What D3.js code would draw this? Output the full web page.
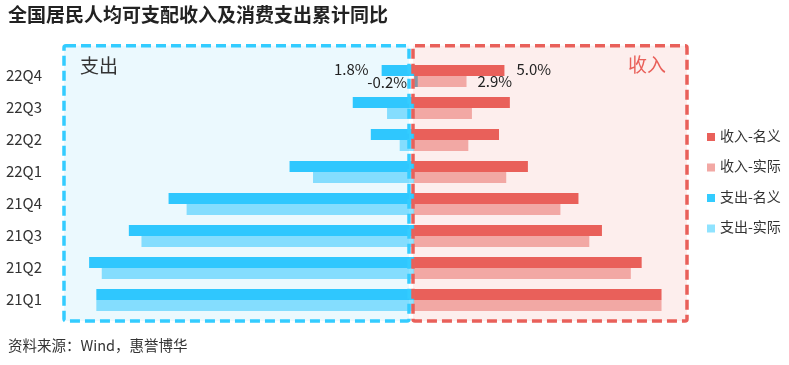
<!DOCTYPE html>
<html>
<head>
<meta charset="utf-8">
<script src="https://cdn.jsdelivr.net/npm/d3@7"></script>
<style>
html,body{margin:0;padding:0;background:#fff;}
svg{display:block;}
text{font-family:"Noto Sans CJK SC","Noto Sans",sans-serif;}
</style>
</head>
<body>
<svg id="chart" width="789" height="365"></svg>
<script>
const categories = ["22Q4","22Q3","22Q2","22Q1","21Q4","21Q3","21Q2","21Q1"];
const incomeNominal = [5.0,5.3,4.7,6.3,9.1,10.4,12.6,13.7];
const incomeReal    = [2.9,3.2,3.0,5.1,8.1,9.7,12.0,13.7];
const expNominal    = [1.8,3.4,2.4,6.9,13.6,15.8,18.0,17.6];
const expReal       = [-0.2,1.5,0.8,5.6,12.6,15.1,17.3,17.6];
const seriesNames = ["收入-名义","收入-实际","支出-名义","支出-实际"];
const xDomain = [-20, 15];

const colors = {
  incN:"#E9605A", incR:"#F2A8A4", expN:"#33CCFF", expR:"#8FE3FF",
  expFill:"#EBF9FE", incFill:"#FDEEED"
};

const svg = d3.select("#chart");
const x = d3.scaleLinear().domain(xDomain).range([53, 685]);
const y = d3.scaleBand().domain(categories).range([60, 316])
  .paddingInner(0.3125).paddingOuter(0.15625);
const half = y.bandwidth()/2;
const x0 = x(0);

// Title
svg.append("text").attr("x",8).attr("y",22)
  .attr("font-size",19).attr("font-weight","bold").attr("fill","#222")
  .text("全国居民人均可支配收入及消费支出累计同比");

// Box fills
const boxTop = 45.7, boxBottom = 321;
const expBox = {x1:64, x2:409};
const incBox = {x1:413, x2:687};
svg.append("rect").attr("x",expBox.x1).attr("y",boxTop)
  .attr("width",expBox.x2-expBox.x1).attr("height",boxBottom-boxTop)
  .attr("fill",colors.expFill);
svg.append("rect").attr("x",incBox.x1).attr("y",boxTop)
  .attr("width",incBox.x2-incBox.x1).attr("height",boxBottom-boxTop)
  .attr("fill",colors.incFill);

// Bars
const g = svg.append("g");
function barsRight(vals, color, offset){
  g.selectAll(null).data(vals).enter().append("rect")
    .attr("x", d => Math.min(x(d), x0))
    .attr("y", (d,i) => y(categories[i]) + offset)
    .attr("width", d => Math.abs(x(d)-x0))
    .attr("height", half)
    .attr("fill", color);
}
function barsLeft(vals, color, offset){
  g.selectAll(null).data(vals).enter().append("rect")
    .attr("x", d => Math.min(x(-d), x0))
    .attr("y", (d,i) => y(categories[i]) + offset)
    .attr("width", d => Math.abs(x(-d)-x0))
    .attr("height", half)
    .attr("fill", color)
    .style("mix-blend-mode","multiply");
}
barsRight(incomeNominal, colors.incN, 0);
barsRight(incomeReal, colors.incR, half);
barsLeft(expNominal, colors.expN, 0);
barsLeft(expReal, colors.expR, half);

// Box borders
svg.append("rect").attr("x",expBox.x1).attr("y",boxTop)
  .attr("width",expBox.x2-expBox.x1).attr("height",boxBottom-boxTop)
  .attr("rx",2).attr("fill","none").attr("stroke",colors.expN)
  .attr("stroke-width",3.5).attr("stroke-dasharray","10,5");
svg.append("rect").attr("x",incBox.x1).attr("y",boxTop)
  .attr("width",incBox.x2-incBox.x1).attr("height",boxBottom-boxTop)
  .attr("rx",2).attr("fill","none").attr("stroke",colors.incN)
  .attr("stroke-width",3.5).attr("stroke-dasharray","10,5");

// Box titles
svg.append("text").attr("x",80).attr("y",68).attr("dominant-baseline","middle")
  .attr("font-size",19).attr("fill","#333").text("支出");
svg.append("text").attr("x",628).attr("y",67).attr("dominant-baseline","middle")
  .attr("font-size",19).attr("fill",colors.incN).text("收入");

// Y axis
const yAxis = svg.append("g").attr("transform","translate(42,0)")
  .call(d3.axisLeft(y).tickSize(0).tickPadding(0));
yAxis.select(".domain").remove();
yAxis.selectAll("text").attr("font-family","Lato, sans-serif")
  .attr("font-size",15).attr("fill","#333");

// Data labels (latest quarter)
const locale = d3.formatLocale({decimal:".", thousands:",", grouping:[3], currency:["",""], minus:"-"});
const fmt = d => locale.format(".1f")(d) + "%";
const c0 = categories[0];
const lbl = svg.append("g").attr("font-family","Lato, sans-serif")
  .attr("font-size",15).attr("fill","#222");
lbl.append("text").attr("x", x(incomeNominal[0]) + 12).attr("y", y(c0)+half/2+0.5)
  .attr("dominant-baseline","middle").text(fmt(incomeNominal[0]));
lbl.append("text").attr("x", x(incomeReal[0]) + 11).attr("y", y(c0)+half*1.5+1.5)
  .attr("dominant-baseline","middle").text(fmt(incomeReal[0]));
lbl.append("text").attr("x", Math.min(x(-expNominal[0]), x0) - 13).attr("y", y(c0)+half/2+0.5)
  .attr("text-anchor","end").attr("dominant-baseline","middle").text(fmt(expNominal[0]));
lbl.append("text").attr("x", Math.min(x(-expReal[0]), x0) - 7).attr("y", y(c0)+half*1.5+2.5)
  .attr("text-anchor","end").attr("dominant-baseline","middle").text(fmt(expReal[0]));

// Legend
const legColors = [colors.incN, colors.incR, colors.expN, colors.expR];
const leg = svg.append("g");
seriesNames.forEach((name,i) => {
  const cy = 137 + i*30.5;
  leg.append("rect").attr("x",707).attr("y",cy-4).attr("width",8).attr("height",8)
    .attr("fill",legColors[i]);
  leg.append("text").attr("x",720).attr("y",cy).attr("dominant-baseline","middle")
    .attr("font-size",14).attr("fill","#333").text(name);
});

// Source
svg.append("text").attr("x",8).attr("y",351).attr("font-size",14.5).attr("fill","#333")
  .text("资料来源：Wind，惠誉博华");
</script>
</body>
</html>
